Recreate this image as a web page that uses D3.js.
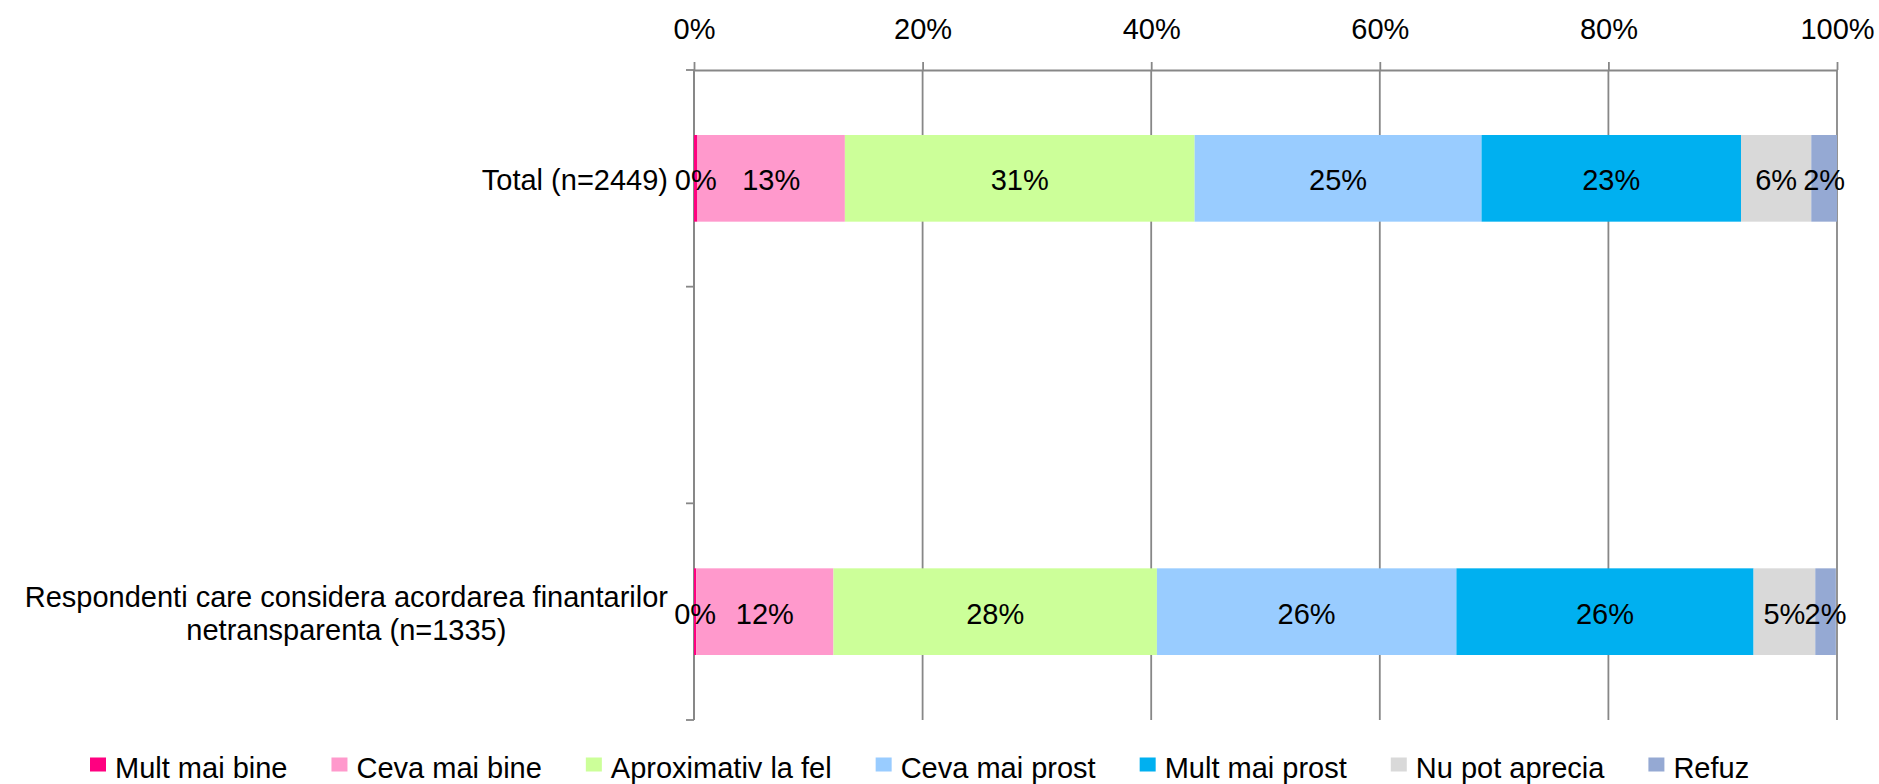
<!DOCTYPE html>
<html>
<head>
<meta charset="utf-8">
<script src="https://cdn.jsdelivr.net/npm/d3@7"></script>
<style>
  html, body { margin: 0; padding: 0; background: #fff; }
  svg { display: block; font-family: "Liberation Sans", Arial, sans-serif; }
</style>
</head>
<body>
<svg id="chart" width="1879" height="784"></svg>
<script>
// ---------- DATA ----------
const categories = [
  "Total (n=2449)",
  "Respondenti care considera acordarea finantarilor netransparenta (n=1335)"
];
const seriesNames = [
  "Mult mai bine", "Ceva mai bine", "Aproximativ la fel",
  "Ceva mai prost", "Mult mai prost", "Nu pot aprecia", "Refuz"
];
const multMaiBine      = [0.3, 0.2];
const cevaMaiBine      = [12.9, 12.0];
const aproximativLaFel = [30.6, 28.3];
const cevaMaiProst     = [25.1, 26.2];
const multMaiProst     = [22.7, 26.0];
const nuPotAprecia     = [6.15, 5.4];
const refuz            = [2.25, 1.8];
const tickValues = [0, 20, 40, 60, 80, 100];
const tickLabels = ["0%", "20%", "40%", "60%", "80%", "100%"];

// ---------- STYLE ----------
const colors = ["#FF0080", "#FF99CC", "#CCFF99", "#99CCFF", "#00B0F0", "#D9D9D9", "#95A9D3"];
const FONT = 29;
const gridColor = "#878787";

const seriesValues = [multMaiBine, cevaMaiBine, aproximativLaFel, cevaMaiProst, multMaiProst, nuPotAprecia, refuz];
const table = categories.map((c, i) => {
  const row = { category: c, slot: i * 2 };
  seriesNames.forEach((s, j) => row[s] = seriesValues[j][i]);
  return row;
});

const svg = d3.select("#chart");
const plot = { left: 694, right: 1837, top: 70, bottom: 720 };

const x = d3.scaleLinear().domain([0, 100]).range([plot.left, plot.right]);
// three slots: category, empty gap, category
const y = d3.scaleBand().domain([0, 1, 2]).range([plot.top, plot.bottom])
  .paddingInner(0.6).paddingOuter(0.3);
const step = (plot.bottom - plot.top) / 3;

// gridlines
svg.append("g").selectAll("line").data(tickValues).join("line")
  .attr("x1", d => x(d)).attr("x2", d => x(d))
  .attr("y1", plot.top).attr("y2", plot.bottom)
  .attr("stroke", gridColor).attr("stroke-width", 1.8);

// top axis
const xAxis = d3.axisTop(x).tickValues(tickValues)
  .tickFormat((d, i) => tickLabels[i]).tickSize(8).tickSizeOuter(0).tickPadding(23);
const gx = svg.append("g").attr("transform", `translate(0,${plot.top})`).call(xAxis);
gx.select(".domain").attr("stroke", gridColor).attr("stroke-width", 1.8);
gx.selectAll(".tick line").attr("stroke", gridColor).attr("stroke-width", 1.8);
gx.selectAll(".tick text").attr("font-size", FONT).attr("fill", "#000")
  .attr("font-family", "Liberation Sans, Arial, sans-serif");

// left axis (slot boundaries)
const gy = svg.append("g");
gy.append("line").attr("x1", plot.left).attr("x2", plot.left)
  .attr("y1", plot.top).attr("y2", plot.bottom)
  .attr("stroke", gridColor).attr("stroke-width", 1.8);
gy.selectAll("line.t").data(d3.range(4)).join("line").attr("class", "t")
  .attr("x1", plot.left - 8).attr("x2", plot.left)
  .attr("y1", d => plot.top + d * step).attr("y2", d => plot.top + d * step)
  .attr("stroke", gridColor).attr("stroke-width", 1.8);

// stacked bars
const stack = d3.stack().keys(seriesNames)(table);
const layers = svg.append("g").selectAll("g").data(stack).join("g")
  .attr("fill", (d, i) => colors[i]);
layers.selectAll("rect").data(d => d).join("rect")
  .attr("x", d => x(d[0]))
  .attr("width", d => x(d[1]) - x(d[0]))
  .attr("y", d => y(d.data.slot))
  .attr("height", y.bandwidth());

// data labels
const labels = svg.append("g");
stack.forEach(layer => {
  layer.forEach(d => {
    const v = d[1] - d[0];
    labels.append("text")
      .attr("x", (x(d[0]) + x(d[1])) / 2)
      .attr("y", y(d.data.slot) + y.bandwidth() / 2 + 12)
      .attr("text-anchor", "middle")
      .attr("font-size", FONT).attr("fill", "#000")
      .text(Math.round(v) + "%");
  });
});

// category labels (wrapped, block right-aligned, lines centred)
const catG = svg.append("g");
const labelRight = 668, wrapW = 670, lineH = 33;
table.forEach(row => {
  const cy = y(row.slot) + y.bandwidth() / 2 + 12;
  const words = row.category.split(" ");
  const lines = [];
  let cur = "";
  const tmp = catG.append("text").attr("font-size", FONT);
  words.forEach(w => {
    const test = cur ? cur + " " + w : w;
    tmp.text(test);
    if (tmp.node().getComputedTextLength() > wrapW && cur) { lines.push(cur); cur = w; }
    else cur = test;
  });
  lines.push(cur);
  const widths = lines.map(l => { tmp.text(l); return tmp.node().getComputedTextLength(); });
  tmp.remove();
  const maxW = d3.max(widths);
  const cx = labelRight - maxW / 2;
  lines.forEach((l, k) => {
    catG.append("text")
      .attr("x", cx)
      .attr("y", cy + (k - (lines.length - 1) / 2) * lineH)
      .attr("text-anchor", "middle")
      .attr("font-size", FONT).attr("fill", "#000")
      .text(l);
  });
});

// legend
const leg = svg.append("g");
let lx = 90;
const legBase = 778;
seriesNames.forEach((s, i) => {
  leg.append("rect").attr("x", lx).attr("y", legBase - 20.5).attr("width", 16).attr("height", 14)
    .attr("fill", colors[i]);
  const t = leg.append("text").attr("x", lx + 25).attr("y", legBase)
    .attr("font-size", FONT).attr("fill", "#000").text(s);
  lx += 25 + t.node().getComputedTextLength() + 44;
});
</script>
</body>
</html>
